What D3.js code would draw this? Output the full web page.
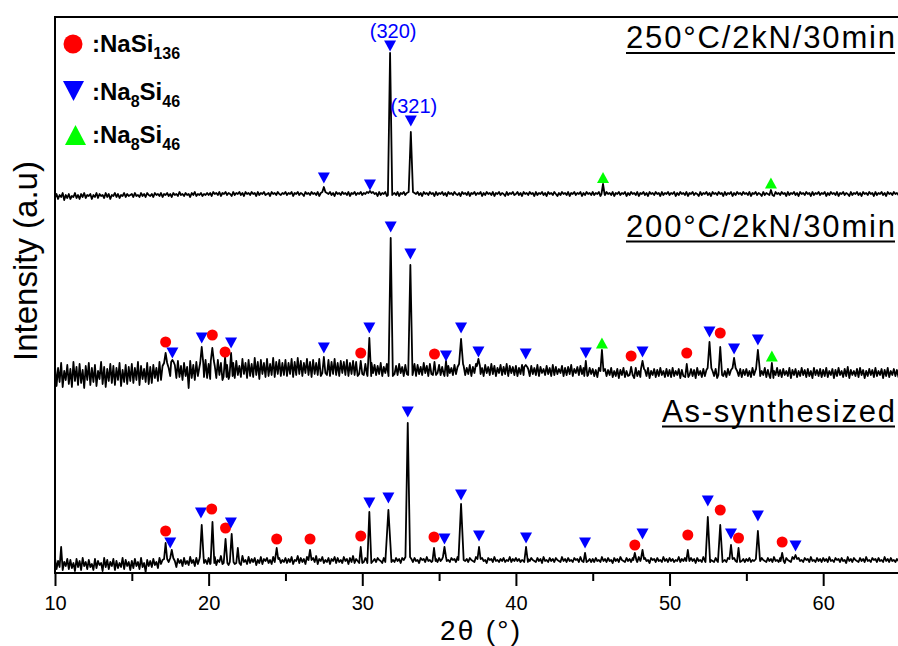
<!DOCTYPE html>
<html>
<head>
<meta charset="utf-8">
<script src="https://cdn.jsdelivr.net/npm/d3@7"></script>
<style>
  html, body { margin: 0; padding: 0; background: #fff; }
  svg { display: block; }
  text { font-family: "Liberation Sans", Arial, Helvetica, sans-serif; }
</style>
</head>
<body>
<svg id="chart" width="898" height="646"></svg>
<script>
// ---- XRD patterns: 2θ scan from 10° to 65°, background sampled every 0.1° ----
const scanStart = 10;
const scanStep = 0.1;

// Sample names, top to bottom
const sampleNames = ["250°C/2kN/30min", "200°C/2kN/30min", "As-synthesized"];
// Vertical stacking offset of each pattern (a.u.)
const stackOffsets = [3650, 1870, 0];

// Background counts (a.u.) of each pattern, 10.0° … 65.0° (one row = 5°)
const bg250 = [
  100,140,90,130,110,150,80,130,100,140, 90,120,110,150,100,130,90,140,110,150, 100,130,120,140,90,130,110,150,100,140, 120,130,100,150,110,140,90,130,120,150, 110,140,100,130,120,150,110,140,120,130,
  140,110,150,120,130,110,150,120,140,110, 150,130,120,140,110,150,130,140,120,150, 110,140,130,150,120,140,110,150,130,140, 120,160,130,140,120,150,130,140,110,150, 130,160,120,140,130,150,120,140,130,150,
  130,150,120,160,140,150,130,160,120,150, 140,160,130,150,140,120,160,130,150,140, 160,130,150,120,160,140,150,130,160,140, 150,120,160,130,150,140,160,130,140,150, 120,160,140,150,130,160,140,130,150,140,
  160,130,150,140,160,120,150,140,160,130, 150,140,120,160,140,150,130,160,140,150, 130,160,120,150,140,160,130,150,140,160, 130,150,120,160,140,150,130,160,140,150, 130,160,120,150,140,160,130,150,140,160,
  130,150,140,160,120,150,130,160,140,150, 120,160,130,150,140,160,120,150,130,160, 140,150,130,160,120,150,140,160,130,150, 140,120,160,130,150,140,160,130,150,120, 160,140,150,130,160,140,150,120,160,130,
  150,140,160,130,150,120,160,140,150,130, 160,140,130,150,120,160,140,150,130,160, 120,150,140,160,130,150,140,160,120,150, 130,160,140,150,130,160,120,150,140,160, 130,150,140,120,160,130,150,140,160,130,
  140,160,130,150,120,160,140,150,130,160, 140,150,120,160,130,150,140,160,130,150, 120,160,140,150,130,160,140,120,150,130, 160,140,150,130,160,120,150,140,160,130, 150,140,160,120,150,130,160,140,150,130,
  160,130,150,140,160,120,150,140,130,160, 140,150,130,160,120,150,140,160,130,150, 140,160,120,150,130,160,140,150,130,160, 120,150,140,160,130,150,120,160,140,150, 130,160,140,150,120,160,130,150,140,160,
  130,150,140,160,120,150,130,160,140,150, 130,160,120,150,140,160,130,150,140,120, 160,130,150,140,160,130,150,120,160,140, 150,130,160,140,150,120,160,130,150,140, 160,120,150,130,160,140,150,130,160,140,
  150,130,160,120,150,140,160,130,150,140, 120,160,130,150,140,160,130,150,120,160, 140,150,130,160,140,150,120,160,130,150, 140,160,130,150,120,160,140,150,130,160, 140,150,120,160,130,150,140,160,130,150,
  140,160,120,150,130,160,140,150,130,160, 120,150,140,160,130,150,140,120,160,130, 150,140,160,130,150,120,160,140,150,130, 160,140,150,120,160,130,150,140,160,130, 150,120,160,140,150,130,160,140,150,130,
  140
];
const bg200 = [
  200,0,180,40,230,-10,150,60,210,20, 170,-10,240,50,190,10,220,30,160,-20, 200,60,230,10,180,40,210,0,150,70, 240,20,190,-10,170,50,220,30,200,10, 180,60,230,0,160,40,210,20,190,50,
  220,30,180,60,240,10,200,70,170,40, 230,20,190,30,210,80,180,50,240,60, 200,90,230,70,180,100,240,60,210,80, 250,90,200,60,230,100,190,-20,250,80, 210,60,240,100,190,70,230,90,260,80,
  220,70,250,100,200,80,260,110,230,60, 250,90,210,70,270,100,230,80,250,110, 200,90,270,120,230,80,260,100,220,90, 280,110,240,70,260,120,230,90,270,100, 220,110,280,90,240,120,260,100,230,110,
  260,100,230,120,270,90,240,110,280,120, 250,100,230,130,270,110,240,90,260,120, 230,110,270,100,250,130,230,110,260,100, 240,120,270,110,230,100,250,130,240,110, 260,100,230,120,250,110,240,100,260,120,
  200,110,220,120,190,100,230,130,210,110, 200,120,230,100,190,130,220,110,210,100, 230,120,200,110,220,130,190,100,210,120, 230,110,200,130,220,100,210,120,190,110, 230,130,200,100,220,120,210,110,200,130,
  210,110,190,120,220,100,200,130,180,110, 210,120,190,100,220,130,200,110,180,120, 210,100,190,130,220,110,200,120,180,100, 210,130,190,110,220,120,200,100,180,130, 210,110,190,120,220,100,200,130,190,110,
  200,100,180,120,210,110,190,130,170,100, 200,120,180,110,210,100,190,130,170,110, 200,120,180,100,210,110,190,120,170,130, 200,100,180,110,190,120,210,100,170,130, 190,110,200,120,180,100,210,110,180,120,
  170,100,160,90,180,110,150,80,170,100, 160,110,180,90,150,100,170,80,160,110, 180,90,150,100,170,110,160,80,180,100, 150,90,170,110,160,100,180,80,150,110, 170,90,160,100,180,110,150,90,170,100,
  160,90,180,100,150,110,170,80,160,100, 180,90,150,110,170,100,160,80,180,110, 150,90,170,100,160,110,180,90,150,100, 170,80,160,110,180,100,150,90,170,110, 160,100,180,80,150,100,170,90,160,110,
  170,100,150,90,180,110,160,80,170,100, 150,110,180,90,160,100,170,80,150,110, 180,100,160,90,170,110,150,100,180,80, 160,110,170,90,150,100,180,110,160,90, 170,100,150,80,180,110,160,100,170,90,
  160,100,180,90,150,110,170,80,160,100, 180,110,150,90,170,100,190,80,160,110, 150,100,170,90,180,110,160,80,150,100, 170,110,160,90,180,100,150,110,170,80, 160,100,180,90,150,110,170,100,160,90,
  130
];
const bgAsSynth = [
  150,40,120,60,260,30,110,70,140,40, 130,50,100,20,140,60,120,30,150,70, 110,40,130,60,90,30,140,50,120,80, 100,20,150,60,130,40,110,70,140,30, 120,50,100,60,150,40,130,70,110,30,
  120,50,140,70,110,40,150,60,100,10, 130,70,120,60,140,80,110,50,150,90, 130,60,140,80,110,70,150,90,120,60, 140,100,130,70,150,90,120,80,160,100, 130,70,150,90,140,80,160,100,130,90,
  150,90,140,100,160,80,130,110,170,90, 140,100,150,80,160,110,130,90,150,100, 140,80,170,110,130,90,160,100,140,110, 150,80,130,100,160,90,140,120,150,100, 130,90,160,110,140,80,150,100,130,110,
  150,100,140,110,160,90,130,120,170,100, 150,110,140,90,160,120,130,100,150,110, 170,90,140,120,160,100,130,110,150,90, 140,120,160,100,150,110,130,100,160,120, 140,90,150,110,170,100,140,120,150,100,
  140,110,150,120,130,100,160,120,140,110, 150,130,120,100,150,120,140,110,160,120, 130,110,150,120,140,100,150,130,120,110, 160,120,140,110,150,120,130,100,150,130, 140,110,160,120,130,110,150,120,140,110,
  150,120,140,110,160,120,130,110,150,130, 140,110,160,120,130,100,150,120,140,110, 150,130,120,110,160,120,140,110,150,120, 130,100,150,130,140,110,160,120,130,110, 140,120,150,110,130,120,160,110,140,120,
  150,120,140,110,130,120,160,110,140,120, 150,130,120,110,150,120,140,100,160,120, 130,110,150,120,140,110,150,130,120,110, 160,120,140,110,150,120,130,110,150,130, 140,110,160,120,130,110,150,120,140,110,
  140,110,150,120,130,110,160,120,140,110, 150,120,130,100,150,120,140,110,160,130, 120,110,150,120,140,110,150,130,120,110, 160,120,140,110,150,120,130,100,150,130, 140,110,150,120,130,110,160,120,140,110,
  150,120,140,110,130,120,160,110,140,120, 150,130,120,110,150,120,140,100,150,120, 130,110,160,120,140,110,150,130,120,110, 150,120,140,110,160,120,130,110,150,130, 140,110,150,120,130,110,160,120,140,110,
  140,120,150,110,130,120,160,110,140,120, 150,130,120,110,150,120,140,110,160,120, 130,110,150,120,140,100,150,130,120,110, 160,120,140,110,150,120,130,110,150,130, 140,110,160,120,130,110,150,120,140,110,
  150,120,140,110,160,120,130,110,150,130, 140,110,150,120,130,100,160,120,140,110, 150,130,120,110,150,120,140,110,160,120, 130,110,150,130,140,110,150,120,130,110, 160,120,140,110,150,120,130,110,140,120,
  130
];

// Diffraction peaks: [2θ (°), peak intensity (a.u.), half base width (°)]
const peaks250 = [
  [27.5, 210, 0.1], [30.5, 170, 0.1], [31.81, 1550, 0.14], [33.16, 760, 0.14],
  [45.67, 240, 0.1], [56.6, 180, 0.1]
];
const peaks200 = [
  [17.2, 330, 0.1], [17.64, 260, 0.08], [19.55, 390, 0.1], [20.24, 380, 0.1],
  [21.07, 290, 0.1], [21.46, 330, 0.1], [27.5, 290, 0.1], [29.9, 250, 0.1],
  [30.46, 480, 0.12], [31.85, 1480, 0.14], [33.13, 1210, 0.14], [34.7, 240, 0.1],
  [35.45, 250, 0.1], [36.43, 470, 0.13], [37.56, 270, 0.1], [40.64, 210, 0.1],
  [44.55, 250, 0.1], [45.6, 360, 0.1], [47.5, 190, 0.1], [48.24, 250, 0.1],
  [51.12, 220, 0.1], [52.6, 440, 0.12], [53.3, 390, 0.12], [54.2, 280, 0.1],
  [55.75, 360, 0.12], [56.66, 230, 0.1]
];
const peaksAsSynth = [
  [17.2, 300, 0.1], [17.6, 230, 0.1], [19.55, 480, 0.12], [20.25, 510, 0.12],
  [21.1, 340, 0.12], [21.5, 390, 0.12], [21.9, 250, 0.1], [24.43, 250, 0.1],
  [26.6, 230, 0.1], [29.9, 260, 0.1], [30.46, 610, 0.13], [31.7, 630, 0.2],
  [32.96, 1500, 0.15], [34.67, 250, 0.1], [35.35, 260, 0.1], [36.43, 690, 0.17],
  [37.6, 260, 0.1], [40.66, 260, 0.12], [44.5, 200, 0.1], [47.74, 200, 0.1],
  [48.24, 230, 0.1], [51.19, 230, 0.1], [52.49, 560, 0.15], [53.3, 480, 0.15],
  [54.0, 280, 0.1], [54.49, 250, 0.1], [55.75, 420, 0.13], [57.33, 200, 0.1],
  [58.2, 180, 0.1]
];

// Phase assignments: [phase, 2θ (°), marker level (a.u.), reflection label]
const marks250 = [
  ["NaSi46", 27.5, 300], ["NaSi46", 30.5, 230], ["NaSi46", 31.81, 1620, "(320)"],
  ["NaSi46", 33.16, 870, "(321)"], ["NaSi46g", 45.67, 305], ["NaSi46g", 56.6, 250]
];
const marks200 = [
  ["NaSi136", 17.2, 440], ["NaSi46", 17.64, 330], ["NaSi46", 19.55, 480],
  ["NaSi136", 20.24, 510], ["NaSi136", 21.07, 340], ["NaSi46", 21.46, 430],
  ["NaSi46", 27.5, 380], ["NaSi136", 29.9, 330], ["NaSi46", 30.46, 580],
  ["NaSi46", 31.85, 1590], ["NaSi46", 33.13, 1320], ["NaSi136", 34.7, 320],
  ["NaSi46", 35.45, 300], ["NaSi46", 36.43, 580], ["NaSi46", 37.56, 340],
  ["NaSi46", 40.64, 320], ["NaSi46", 44.55, 330], ["NaSi46g", 45.6, 430],
  ["NaSi136", 47.5, 300], ["NaSi46", 48.24, 340], ["NaSi136", 51.12, 330],
  ["NaSi46", 52.6, 540], ["NaSi136", 53.3, 530], ["NaSi46", 54.2, 370],
  ["NaSi46", 55.75, 460], ["NaSi46g", 56.66, 300]
];
const marksAsSynth = [
  ["NaSi136", 17.2, 420], ["NaSi46", 17.5, 300], ["NaSi46", 19.5, 600],
  ["NaSi136", 20.2, 640], ["NaSi136", 21.1, 450], ["NaSi46", 21.45, 500],
  ["NaSi136", 24.43, 340], ["NaSi136", 26.6, 340], ["NaSi136", 29.9, 370],
  ["NaSi46", 30.46, 700], ["NaSi46", 31.7, 750], ["NaSi46", 32.96, 1610],
  ["NaSi136", 34.67, 360], ["NaSi46", 35.35, 340], ["NaSi46", 36.43, 780],
  ["NaSi46", 37.6, 370], ["NaSi46", 40.66, 350], ["NaSi46", 44.5, 300],
  ["NaSi136", 47.74, 280], ["NaSi46", 48.24, 390], ["NaSi136", 51.19, 380],
  ["NaSi46", 52.49, 720], ["NaSi136", 53.3, 630], ["NaSi46", 54.0, 390],
  ["NaSi136", 54.49, 350], ["NaSi46", 55.75, 570], ["NaSi136", 57.33, 310],
  ["NaSi46", 58.2, 270]
];

// Axis ticks
const majorTicks = [10, 20, 30, 40, 50, 60];
const minorTicks = [15, 25, 35, 45, 55, 65];

// ---- drawing ----
const svg = d3.select("#chart");
const x = d3.scaleLinear().domain([10, 65]).range([55, 900]);
const y = d3.scaleLinear().domain([0, 5560]).range([573, 17]);

const phaseStyle = {
  NaSi136: { shape: "circle", color: "#ff0000" },
  NaSi46:  { shape: "down",   color: "#0000ff" },
  NaSi46g: { shape: "up",     color: "#00ff00" }
};

function symbolPath(shape, w, h) {
  if (shape === "down") return `M${-w/2},${-h/2}L${w/2},${-h/2}L0,${h/2}Z`;
  return `M${-w/2},${h/2}L${w/2},${h/2}L0,${-h/2}Z`;
}

// Merge the sampled background with the listed reflections
function buildPattern(bg, peaks) {
  const pts = [];
  bg.forEach((v, i) => {
    const t = scanStart + i * scanStep;
    const inside = peaks.some(p => Math.abs(t - p[0]) <= p[2] + 0.02);
    if (!inside) pts.push([t, v]);
  });
  peaks.forEach(p => {
    const idx = Math.max(0, Math.min(bg.length - 1, Math.round((p[0] - scanStart) / scanStep)));
    const foot = bg[idx];
    pts.push([p[0] - p[2], foot], [p[0], p[1]], [p[0] + p[2], foot]);
  });
  pts.sort((a, b) => a[0] - b[0]);
  return pts;
}

const patterns = [
  { bg: bg250, peaks: peaks250, marks: marks250 },
  { bg: bg200, peaks: peaks200, marks: marks200 },
  { bg: bgAsSynth, peaks: peaksAsSynth, marks: marksAsSynth }
];

const plot = svg.append("g");

patterns.forEach((p, k) => {
  const off = stackOffsets[k];
  const line = d3.line().x(d => x(d[0])).y(d => y(d[1] + off));
  plot.append("path")
    .datum(buildPattern(p.bg, p.peaks))
    .attr("fill", "none")
    .attr("stroke", "#000")
    .attr("stroke-width", 1.8)
    .attr("stroke-linejoin", "round")
    .attr("d", line);

  const mg = plot.append("g");
  p.marks.forEach(m => {
    const st = phaseStyle[m[0]];
    const cx = x(m[1]), cy = y(m[2] + off);
    if (st.shape === "circle") {
      mg.append("circle").attr("cx", cx).attr("cy", cy).attr("r", 5.5).attr("fill", st.color);
    } else {
      mg.append("path").attr("d", symbolPath(st.shape, 12, 11))
        .attr("transform", `translate(${cx},${cy})`).attr("fill", st.color);
    }
    if (m[3]) {
      mg.append("text").attr("x", cx + 3).attr("y", cy - 8.5)
        .attr("text-anchor", "middle").attr("font-size", 20)
        .attr("fill", "#0000ff").text(m[3]);
    }
  });
});

// Sample labels, right-aligned and underlined
const labelBaselines = [48, 236.5, 421.5];
const labelWidths = [269, 269, 233];
sampleNames.forEach((name, k) => {
  const right = 895;
  svg.append("text")
    .attr("x", right).attr("y", labelBaselines[k])
    .attr("text-anchor", "end").attr("font-size", 31)
    .attr("textLength", labelWidths[k]).attr("lengthAdjust", "spacing")
    .attr("fill", "#000").text(name);
  svg.append("line")
    .attr("x1", right - labelWidths[k]).attr("x2", right)
    .attr("y1", labelBaselines[k] + 5).attr("y2", labelBaselines[k] + 5)
    .attr("stroke", "#000").attr("stroke-width", 2);
});

// Frame
svg.append("rect")
  .attr("x", 55).attr("y", 17).attr("width", 845).attr("height", 556)
  .attr("fill", "none").attr("stroke", "#000").attr("stroke-width", 2);

// X axis
const axMajor = svg.append("g").attr("transform", "translate(0,573)")
  .call(d3.axisBottom(x).tickValues(majorTicks).tickSize(13).tickPadding(9.3).tickFormat(d3.format("d")));
axMajor.select(".domain").remove();
axMajor.selectAll(".tick line").attr("stroke", "#000").attr("stroke-width", 2);
axMajor.selectAll(".tick text").attr("font-size", 20).attr("fill", "#000")
  .attr("font-family", "'Liberation Sans', Arial, sans-serif");

const axMinor = svg.append("g").attr("transform", "translate(0,573)")
  .call(d3.axisBottom(x).tickValues(minorTicks).tickSize(8).tickFormat(""));
axMinor.select(".domain").remove();
axMinor.selectAll(".tick line").attr("stroke", "#000").attr("stroke-width", 2);

// Axis titles
svg.append("text").attr("x", 480).attr("y", 640).attr("text-anchor", "middle")
  .attr("font-size", 28).attr("textLength", 80).attr("lengthAdjust", "spacing")
  .attr("fill", "#000").text("2θ (°)");
svg.append("text").attr("transform", "translate(37,261) rotate(-90)")
  .attr("text-anchor", "middle").attr("font-size", 33).attr("fill", "#000")
  .text("Intensity (a.u)");

// Legend
const legendItems = [
  { phase: "NaSi136", parts: [[":NaSi", 0], ["136", 1]] },
  { phase: "NaSi46",  parts: [[":Na", 0], ["8", 1], ["Si", 0], ["46", 1]] },
  { phase: "NaSi46g", parts: [[":Na", 0], ["8", 1], ["Si", 0], ["46", 1]] }
];
const legendRows = [44, 91, 135];
const legendText = [52, 100, 143];
legendItems.forEach((it, i) => {
  const st = phaseStyle[it.phase];
  if (st.shape === "circle") {
    svg.append("circle").attr("cx", 73).attr("cy", legendRows[i]).attr("r", 9.5).attr("fill", st.color);
  } else {
    svg.append("path").attr("d", symbolPath(st.shape, 21, 20))
      .attr("transform", `translate(${st.shape === "up" ? 75.5 : 73.5},${legendRows[i]})`)
      .attr("fill", st.color);
  }
  const t = svg.append("text").attr("x", 92).attr("y", legendText[i])
    .attr("font-weight", "bold").attr("fill", "#000");
  let sub = false;
  it.parts.forEach(([s, isSub]) => {
    const ts = t.append("tspan").text(s).attr("font-size", isSub ? 16 : 24);
    if (isSub && !sub) ts.attr("dy", 7);
    if (!isSub && sub) ts.attr("dy", -7);
    sub = !!isSub;
  });
});
</script>
</body>
</html>
